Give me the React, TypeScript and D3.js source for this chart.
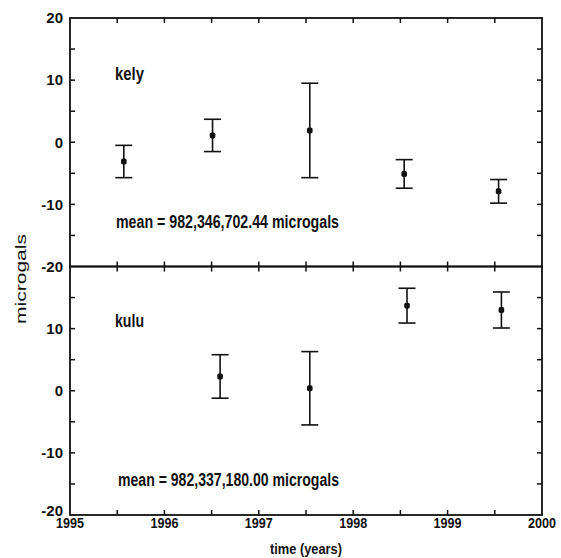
import React, { useEffect, useRef } from "react";
import * as d3 from "d3";

// kely station
const kelyYears = [1995.57, 1996.51, 1997.54, 1998.54, 1999.54];
const kelyValues = [-3.1, 1.1, 1.9, -5.1, -7.9];
const kelyErrors = [2.6, 2.6, 7.6, 2.3, 1.9];

// kulu station
const kuluYears = [1996.59, 1997.54, 1998.57, 1999.57];
const kuluValues = [2.3, 0.4, 13.7, 13.0];
const kuluErrors = [3.5, 5.9, 2.8, 2.9];

const yearTicks = [1995, 1996, 1997, 1998, 1999, 2000];
const valueTicks = [20, 10, 0, -10, -20];

const FONT = "'Liberation Sans Narrow', 'Arial Narrow', 'Liberation Sans', Arial, sans-serif";

export default function App() {
  const ref = useRef<SVGSVGElement>(null);

  useEffect(() => {
    const svg = d3.select(ref.current);
    svg.selectAll("*").remove();

    const left = 70, right = 542;
    const x = d3.scaleLinear().domain([1995, 2000]).range([left, right]);

    const panels = [
      { name: "kely", years: kelyYears, vals: kelyValues, errs: kelyErrors, top: 18, bottom: 266.5,
        mean: "mean = 982,346,702.44 microgals", nameY: 80, meanY: 228, meanX: 116, tickLabels: [20, 10, 0, -10, -20] },
      { name: "kulu", years: kuluYears, vals: kuluValues, errs: kuluErrors, top: 266.5, bottom: 515,
        mean: "mean = 982,337,180.00 microgals", nameY: 327, meanY: 486, meanX: 118, tickLabels: [10, 0, -10, -20] },
    ];

    panels.forEach((p, pi) => {
      const y = d3.scaleLinear().domain([-20, 20]).range([p.bottom, p.top]);
      const g = svg.append("g");

      // frame
      g.append("rect")
        .attr("x", left).attr("y", p.top)
        .attr("width", right - left).attr("height", p.bottom - p.top)
        .attr("fill", "none").attr("stroke", "#111").attr("stroke-width", 1.8);

      // x ticks (every half year) on top and bottom, inward
      const xt = d3.range(1995.5, 2000, 0.5);
      g.selectAll(".xtb").data(xt).join("line")
        .attr("x1", d => x(d)).attr("x2", d => x(d))
        .attr("y1", p.bottom).attr("y2", p.bottom - 5)
        .attr("stroke", "#111").attr("stroke-width", 1.5);
      g.selectAll(".xtt").data(xt).join("line")
        .attr("x1", d => x(d)).attr("x2", d => x(d))
        .attr("y1", p.top).attr("y2", p.top + 5)
        .attr("stroke", "#111").attr("stroke-width", 1.5);

      // y ticks (every 5) left and right, inward
      const yt = d3.range(-15, 20, 5);
      g.selectAll(".ytl").data(yt).join("line")
        .attr("x1", left).attr("x2", left + 5)
        .attr("y1", d => y(d)).attr("y2", d => y(d))
        .attr("stroke", "#111").attr("stroke-width", 1.5);
      g.selectAll(".ytr").data(yt).join("line")
        .attr("x1", right).attr("x2", right - 5)
        .attr("y1", d => y(d)).attr("y2", d => y(d))
        .attr("stroke", "#111").attr("stroke-width", 1.5);

      // y tick labels
      g.selectAll(".ylab").data(valueTicks.filter(v => p.tickLabels.includes(v))).join("text")
        .attr("x", 63).attr("y", d => y(d))
        .attr("dy", d => (d === -20 && pi === 1 ? "0.05em" : "0.35em"))
        .attr("text-anchor", "end")
        .attr("font-family", FONT).attr("font-weight", "bold").attr("font-size", 15)
        .attr("fill", "#111")
        .text(d => String(d));

      // error bars
      const pts = p.years.map((yr, i) => ({ yr, v: p.vals[i], e: p.errs[i] }));
      const bars = g.selectAll(".eb").data(pts).join("g");
      bars.append("line")
        .attr("x1", d => x(d.yr)).attr("x2", d => x(d.yr))
        .attr("y1", d => y(d.v + d.e)).attr("y2", d => y(d.v - d.e))
        .attr("stroke", "#111").attr("stroke-width", 1.6);
      bars.append("line")
        .attr("x1", d => x(d.yr) - 8.5).attr("x2", d => x(d.yr) + 8.5)
        .attr("y1", d => y(d.v + d.e)).attr("y2", d => y(d.v + d.e))
        .attr("stroke", "#111").attr("stroke-width", 1.6);
      bars.append("line")
        .attr("x1", d => x(d.yr) - 8.5).attr("x2", d => x(d.yr) + 8.5)
        .attr("y1", d => y(d.v - d.e)).attr("y2", d => y(d.v - d.e))
        .attr("stroke", "#111").attr("stroke-width", 1.6);
      bars.append("rect")
        .attr("x", d => x(d.yr) - 2.8).attr("y", d => y(d.v) - 3)
        .attr("width", 5.6).attr("height", 6).attr("rx", 1.8)
        .attr("fill", "#111");

      // station name and mean
      g.append("text")
        .attr("x", 115).attr("y", p.nameY)
        .attr("font-family", FONT).attr("font-weight", "bold").attr("font-size", 19)
        .attr("textLength", 29).attr("lengthAdjust", "spacingAndGlyphs")
        .attr("fill", "#111").text(p.name);
      g.append("text")
        .attr("x", p.meanX).attr("y", p.meanY)
        .attr("font-family", FONT).attr("font-weight", "bold").attr("font-size", 18)
        .attr("textLength", 339 - p.meanX).attr("lengthAdjust", "spacingAndGlyphs")
        .attr("fill", "#111").text(p.mean);
    });

    // x tick labels
    svg.selectAll(".xlab").data(yearTicks).join("text")
      .attr("x", d => x(d)).attr("y", 528)
      .attr("text-anchor", "middle")
      .attr("font-family", FONT).attr("font-weight", "bold").attr("font-size", 15.5)
      .attr("textLength", 28).attr("lengthAdjust", "spacingAndGlyphs")
      .attr("fill", "#111").text(d => String(d));

    // axis titles
    svg.append("text")
      .attr("x", 306).attr("y", 554)
      .attr("text-anchor", "middle")
      .attr("font-family", FONT).attr("font-weight", "bold").attr("font-size", 15.5)
      .attr("textLength", 72).attr("lengthAdjust", "spacingAndGlyphs")
      .attr("fill", "#111").text("time (years)");
    svg.append("text")
      .attr("transform", "translate(26,279) rotate(-90)")
      .attr("text-anchor", "middle")
      .attr("font-family", "'Liberation Sans', Arial, sans-serif").attr("font-size", 15)
      .attr("textLength", 90).attr("lengthAdjust", "spacingAndGlyphs")
      .attr("fill", "#111").text("microgals");
  }, []);

  return (
    <svg ref={ref} width={561} height={558}
      style={{ position: "absolute", left: 0, top: 0, background: "#fff" }} />
  );
}
